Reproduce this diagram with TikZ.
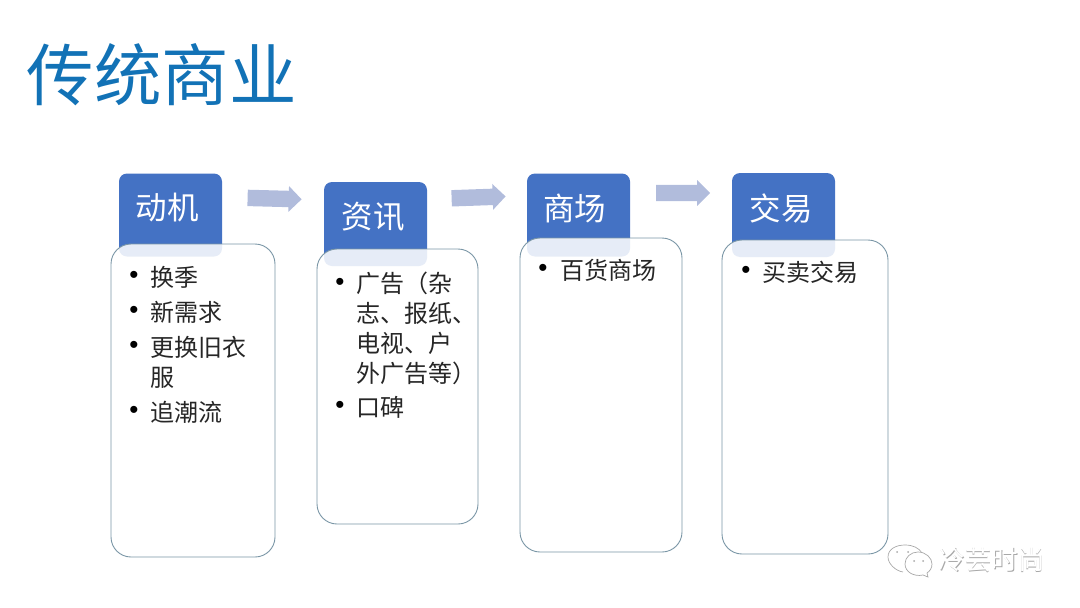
\documentclass[tikz,border=0pt]{standalone}
\usepackage{fontspec}
\setmainfont{Liberation Sans}
\newfontfamily\cjk{Noto Sans CJK SC}
\usetikzlibrary{positioning,shapes.arrows}
\definecolor{titleblue}{HTML}{1272B6}
\definecolor{headblue}{HTML}{4472C4}
\definecolor{arrowblue}{HTML}{B1BCDC}
\definecolor{edgegrey}{HTML}{7A96A6}
\definecolor{markgrey}{HTML}{A8A8A8}
\tikzset{
  headbox/.style={fill=headblue,rounded corners=8pt,minimum width=103pt,inner sep=0pt},
  headtext/.style={text=white,font=\cjk\fontsize{31.5}{34}\selectfont,inner sep=0pt},
  bodybox/.style={draw=edgegrey,line width=.9pt,fill=white,fill opacity=.87,rounded corners=20pt,inner sep=0pt},
  itemtext/.style={anchor=west,align=left,inner sep=0pt,text=black!85,font=\cjk\fontsize{24}{30}\selectfont},
  itemdot/.style={inner sep=0pt,font=\fontsize{26}{28}\selectfont},
  flowarrow/.style={single arrow,fill=arrowblue,inner xsep=0pt,inner ysep=8pt,minimum height=54pt,
    single arrow head extend=4.7pt,single arrow head indent=0pt},
  marktext/.style={text=white,font=\cjk\fontsize{26.5}{28}\selectfont,inner sep=0pt}
}
\begin{document}
\begin{tikzpicture}[x=1pt,y=-1pt]
\useasboundingbox (0,0) rectangle (1080,608);
\node[anchor=west,inner sep=0pt,text=titleblue,font=\cjk\fontsize{67.5}{70}\selectfont] (title) at (26.5,75) {传统商业};
% columns
\foreach \nm/\hx/\hy/\hh/\wx/\wy/\word in {a/170.5/215/83/167/208/动机,b/375.5/224/84/373/217/资讯,c/578.5/215/83/574.5/208/商场,d/783.5/215/84/781/208/交易} {
  \node[headbox,minimum height=\hh pt] (head\nm) at (\hx,\hy) {};
  \node[headtext] (word\nm) at (\wx,\wy) {\word};
}
\foreach \nm/\bx/\by/\bw/\bh in {a/193/400.5/164/313,b/397.5/386.5/161/275,c/601/395/162/314,d/805/397/166/314}
  \node[bodybox,minimum width=\bw pt,minimum height=\bh pt] (body\nm) at (\bx,\by) {};
% arrows
\node[flowarrow,rotate=-1.5] (flowa) at (270.5,198.5) {};
\node[flowarrow,rotate=2] (flowb) at (474.5,197.5) {};
\node[flowarrow] (flowc) at (679,193) {};
% list items
\foreach \nm/\dx/\dy/\tx/\yy/\txt in {
  a1/134/277/150/277/换季,
  a2/134/312/150/312/新需求,
  a3/134/347/150/362.5/{更换旧衣\\服},
  a4/134/412/150/412/追潮流,
  b1/340/284/356/328.5/{广告（杂\\志、报纸、\\电视、户\\外广告等）},
  b2/340/407.5/356/407.5/口碑,
  c1/543/270.5/560/270.5/百货商场,
  d1/746/272.5/762/272.5/买卖交易} {
  \node[itemdot] (dot\nm) at (\dx,\dy) {•};
  \node[itemtext] (item\nm) at (\tx,\yy) {\txt};
}
% watermark
\begin{scope}[draw=markgrey,line width=.7pt,fill=white]
\draw (903,572) .. controls (896,571) and (888,564) .. (888,557) .. controls (888,549) and (896,545) .. (905,545)
  .. controls (913,545) and (919,548) .. (922,553);
\draw[fill=white] (918,552) .. controls (926,552) and (932,558) .. (932,564) .. controls (932,568) and (930,571) .. (927,573)
  -- (928,577) -- (923,575) .. controls (914,577) and (905,572) .. (905,564) .. controls (905,557) and (911,552) .. (918,552);
\end{scope}
\foreach \cx/\cy in {897/552,908/552,914/561,923/561}
  \fill[markgrey] (\cx,\cy) circle (1pt);
\node[marktext,text=markgrey] (markshade) at (992.3,560.8) {冷芸时尚};
\node[marktext] (mark) at (991.5,560) {冷芸时尚};
\end{tikzpicture}
\end{document}
